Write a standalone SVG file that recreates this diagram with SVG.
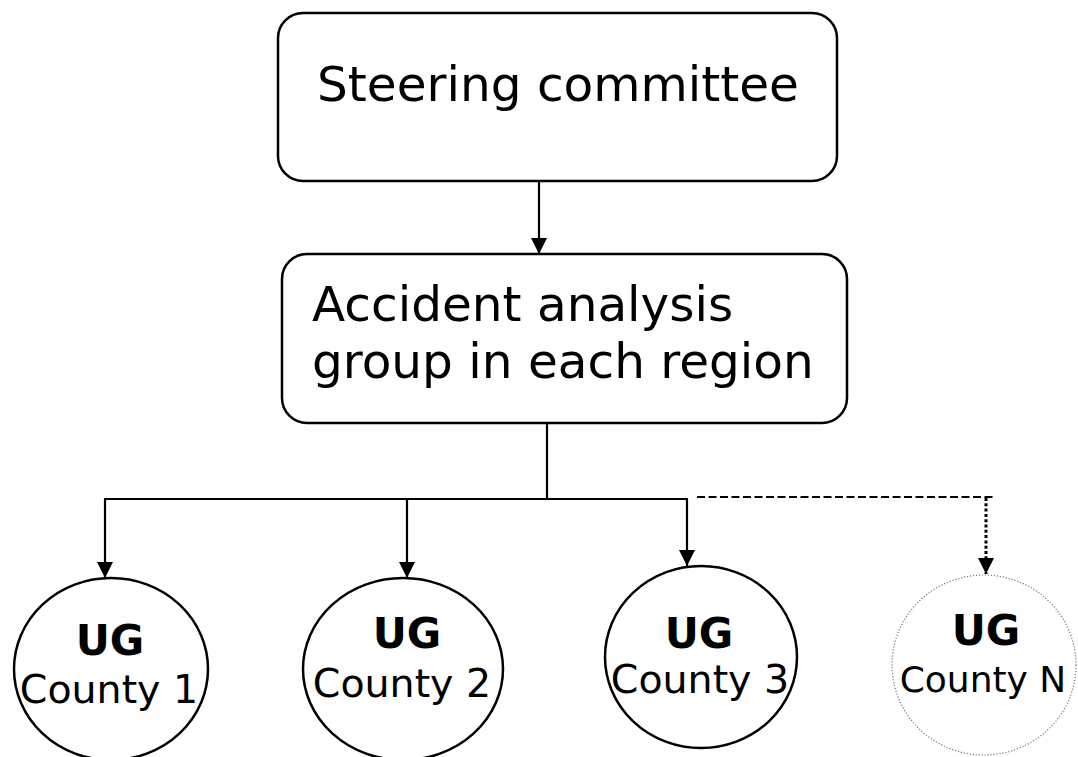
<svg xmlns="http://www.w3.org/2000/svg" width="1078" height="757" viewBox="0 0 1078 757">
<defs>
<style>
.box{fill:#fff;stroke:#000;stroke-width:2.5}
.circ{fill:#fff;stroke:#000;stroke-width:2.5}
.circn{fill:#fff;stroke:#777;stroke-width:1.2;stroke-dasharray:1.2 1.8}
.ln{fill:none;stroke:#000;stroke-width:2.2}
.dash{fill:none;stroke:#000;stroke-width:2;stroke-dasharray:8 3.5}
.dot{fill:none;stroke:#000;stroke-width:3;stroke-dasharray:3 2.3}
.big{font-family:"DejaVu Sans",Verdana,sans-serif;font-size:48.5px;fill:#000}
.ug{font-family:"DejaVu Sans",Verdana,sans-serif;font-size:42px;font-weight:bold;fill:#000;text-anchor:middle}
.cty{font-family:"DejaVu Sans",Verdana,sans-serif;font-size:39.5px;fill:#000;text-anchor:middle}
.ctyn{font-family:"DejaVu Sans",Verdana,sans-serif;font-size:36px;fill:#000;text-anchor:middle}
</style>
<marker id="arr" markerUnits="userSpaceOnUse" markerWidth="17" markerHeight="16" refX="16" refY="8" orient="auto" viewBox="0 0 17 16">
<path d="M0,0 L16,8 L0,16 Z" fill="#000"/>
</marker>
</defs>
<g id="connectors">
<path class="ln" d="M539,181 V254" marker-end="url(#arr)"/>
<path class="ln" d="M547,424 V499"/>
<path class="ln" d="M104,499 H688"/>
<path class="ln" d="M105,499 V578" marker-end="url(#arr)"/>
<path class="ln" d="M407,499 V578" marker-end="url(#arr)"/>
<path class="ln" d="M687,499 V566" marker-end="url(#arr)"/>
<path class="dash" d="M697,497 H993"/>
<path class="dot" d="M986,498 V574" marker-end="url(#arr)"/>
</g>
<g id="steering">
<rect class="box" x="278" y="13" width="559" height="168" rx="25"/>
<text class="big" x="558" y="101" text-anchor="middle">Steering committee</text>
</g>
<g id="accident">
<rect class="box" x="282" y="254" width="565" height="169" rx="25"/>
<text class="big" x="312" y="321">Accident analysis</text>
<text class="big" x="312" y="378">group in each region</text>
</g>
<g id="ug1">
<ellipse class="circ" cx="111" cy="669" rx="97" ry="91"/>
<text class="ug" x="110" y="655">UG</text>
<text class="cty" x="109" y="703">County 1</text>
</g>
<g id="ug2">
<ellipse class="circ" cx="403" cy="669" rx="100" ry="91"/>
<text class="ug" x="407" y="648">UG</text>
<text class="cty" x="402" y="697">County 2</text>
</g>
<g id="ug3">
<ellipse class="circ" cx="701" cy="657" rx="96" ry="91"/>
<text class="ug" x="699" y="648">UG</text>
<text class="cty" x="700" y="693">County 3</text>
</g>
<g id="ugn">
<ellipse class="circn" cx="984" cy="665" rx="92" ry="90"/>
<text class="ug" x="986" y="645">UG</text>
<text class="ctyn" x="983" y="692">County N</text>
</g>
</svg>
